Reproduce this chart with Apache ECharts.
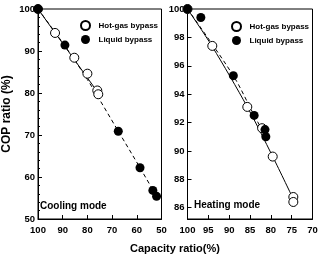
<!DOCTYPE html>
<html>
<head>
<meta charset="utf-8">
<script src="https://cdn.jsdelivr.net/npm/echarts/dist/echarts.min.js"></script>
<style>
  html, body { margin: 0; padding: 0; background: #fff; }
  #chart { width: 321px; height: 256px; }
</style>
</head>
<body>
<div id="chart"></div>
<script>
// cooling mode (left panel)
var coolHotGas = [[100, 100], [93.1, 94.3], [85.3, 88.4], [80, 84.6], [76, 80.6], [75.6, 79.7]];
var coolLiquid = [[100, 100], [89.1, 91.4], [67.5, 70.9], [58.7, 62.2], [53.5, 56.8], [52, 55.4]];
var coolHotFit = [[100, 100], [75.6, 80.0]];
var coolLiqFit = [[100, 100], [89.1, 91.2], [80, 83.2], [67.5, 70.9], [58.7, 62.2], [52, 55.4]];

// heating mode (right panel)
var heatHotGas = [[100, 100], [94.05, 97.4], [85.65, 93.1], [82.1, 91.6], [79.55, 89.6], [74.6, 86.75], [74.6, 86.4]];
var heatLiquid = [[100, 100], [96.8, 99.4], [89.0, 95.3], [84.0, 92.5], [81.4, 91.5], [81.2, 91.0]];
var heatHotFit = [[100, 100], [94.05, 97.35], [85.65, 93.1], [79.55, 89.6], [74.6, 86.6]];
var heatLiqFit = [[100, 100], [89.0, 95.3], [84.0, 92.5], [80.8, 90.8]];

var heatYLabels = [86, 88, 90, 92, 94, 96, 98, 100];
var legendNames = ['Hot-gas bypass', 'Liquid bypass'];

var FONT = 'Liberation Sans, Arial, sans-serif';

var dom = document.getElementById('chart');
var chart = echarts.init(dom, null, { renderer: 'canvas' });

function xAxisOf (idx, min, max, step) {
  return {
    gridIndex: idx, type: 'value', inverse: true, min: min, max: max, interval: step,
    axisLine: { lineStyle: { color: '#000', width: 1 } },
    axisTick: { inside: true, length: 4, lineStyle: { color: '#000' } },
    axisLabel: { color: '#000', fontSize: 9.5, fontWeight: 'bold', fontFamily: FONT, margin: 6 },
    splitLine: { show: false }
  }
}

var option = {
  animation: false,
  grid: [
    { left: 36, top: 9, width: 125.5, height: 210, show: true, borderColor: '#000', borderWidth: 1 },
    { left: 187.5, top: 9, width: 125, height: 210, show: true, borderColor: '#000', borderWidth: 1 }
  ],
  xAxis: [
    xAxisOf(0, 50, 100, 10),
    xAxisOf(1, 70, 100, 5)
  ],
  yAxis: [
    {
      gridIndex: 0, type: 'value', min: 50, max: 100, interval: 10,
      name: 'COP ratio (%)', nameLocation: 'middle', nameGap: 25, nameRotate: 90,
      nameTextStyle: { color: '#000', fontSize: 12, fontWeight: 'bold', fontFamily: FONT },
      axisLine: { lineStyle: { color: '#000', width: 1 } },
      axisTick: { inside: true, length: 4, lineStyle: { color: '#000' } },
      minorTick: { show: true, splitNumber: 5, length: 2, lineStyle: { color: '#000' } },
      axisLabel: { color: '#000', fontSize: 9.5, fontWeight: 'bold', fontFamily: FONT, margin: 3 },
      splitLine: { show: false }
    },
    {
      gridIndex: 1, type: 'value', min: 85.2, max: 100,
      axisLine: { lineStyle: { color: '#000', width: 1 } },
      axisTick: { inside: true, length: 4, customValues: heatYLabels, lineStyle: { color: '#000' } },
      axisLabel: { color: '#000', fontSize: 9.5, fontWeight: 'bold', fontFamily: FONT, margin: 3, customValues: heatYLabels },
      splitLine: { show: false }
    }
  ],
  legend: [
    {
      orient: 'vertical', left: 75, top: 15, itemWidth: 16, itemHeight: 9, itemGap: 4,
      data: legendNames,
      textStyle: { color: '#000', fontSize: 8, fontWeight: 'bold', fontFamily: FONT }
    },
    {
      orient: 'vertical', left: 226, top: 16, itemWidth: 16, itemHeight: 9, itemGap: 4,
      data: legendNames,
      textStyle: { color: '#000', fontSize: 8, fontWeight: 'bold', fontFamily: FONT }
    }
  ],
  graphic: [
    { type: 'text', left: 40, top: 201, style: { text: 'Cooling mode', fill: '#000', font: 'bold 10px ' + FONT } },
    { type: 'text', left: 194, top: 200, style: { text: 'Heating mode', fill: '#000', font: 'bold 10px ' + FONT } },
    { type: 'text', left: 130, top: 243, style: { text: 'Capacity ratio(%)', fill: '#000', font: 'bold 11px ' + FONT } }
  ],
  series: [
    { name: 'coolHotFit', type: 'line', xAxisIndex: 0, yAxisIndex: 0, data: coolHotFit, symbol: 'none',
      lineStyle: { color: '#000', width: 1 }, z: 1 },
    { name: 'coolLiqFit', type: 'line', xAxisIndex: 0, yAxisIndex: 0, data: coolLiqFit, symbol: 'none', smooth: 0.3,
      lineStyle: { color: '#000', width: 1, type: [4, 3] }, z: 1 },
    { name: 'Hot-gas bypass', type: 'scatter', xAxisIndex: 0, yAxisIndex: 0, data: coolHotGas, symbol: 'circle', symbolSize: 9,
      itemStyle: { color: '#fff', borderColor: '#000', borderWidth: 1, opacity: 1 }, z: 3 },
    { name: 'Liquid bypass', type: 'scatter', xAxisIndex: 0, yAxisIndex: 0, data: coolLiquid, symbol: 'circle', symbolSize: 9,
      itemStyle: { color: '#000', opacity: 1 }, z: 4 },

    { name: 'heatHotFit', type: 'line', xAxisIndex: 1, yAxisIndex: 1, data: heatHotFit, symbol: 'none', smooth: 0.3,
      lineStyle: { color: '#000', width: 1 }, z: 1 },
    { name: 'heatLiqFit', type: 'line', xAxisIndex: 1, yAxisIndex: 1, data: heatLiqFit, symbol: 'none', smooth: 0.3,
      lineStyle: { color: '#000', width: 1, type: [4, 3] }, z: 1 },
    { name: 'Hot-gas bypass', type: 'scatter', xAxisIndex: 1, yAxisIndex: 1, data: heatHotGas, symbol: 'circle', symbolSize: 9,
      itemStyle: { color: '#fff', borderColor: '#000', borderWidth: 1, opacity: 1 }, z: 3 },
    { name: 'Liquid bypass', type: 'scatter', xAxisIndex: 1, yAxisIndex: 1, data: heatLiquid, symbol: 'circle', symbolSize: 9,
      itemStyle: { color: '#000', opacity: 1 }, z: 4 }
  ]
};

chart.setOption(option);
</script>
</body>
</html>
